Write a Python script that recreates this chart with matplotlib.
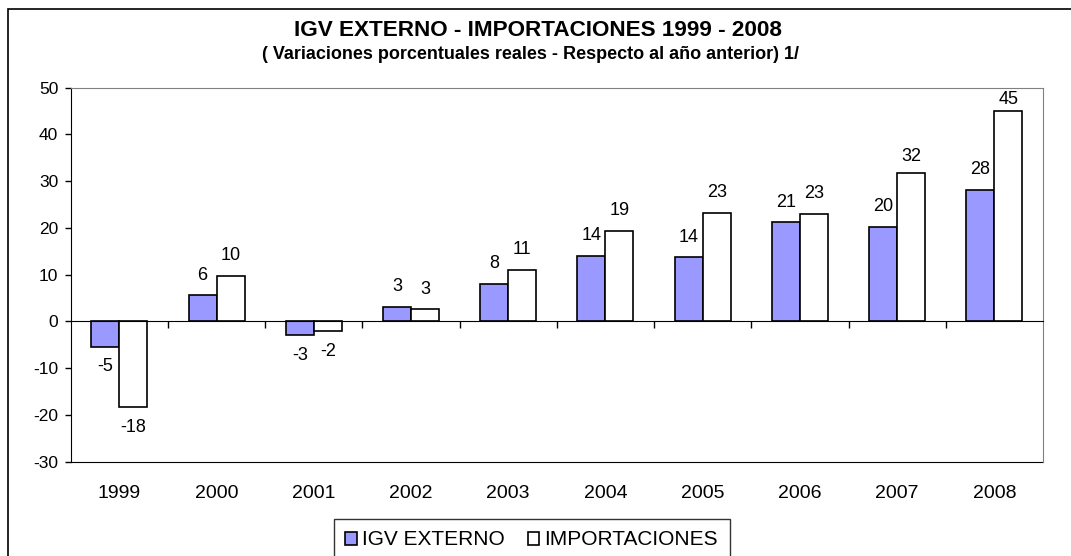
import matplotlib
matplotlib.use("Agg")
import matplotlib.pyplot as plt
from matplotlib.patches import Rectangle
import numpy as np

# Data
years = ["1999", "2000", "2001", "2002", "2003", "2004", "2005", "2006", "2007", "2008"]
igv_externo = [-5.4, 5.6, -3.0, 3.1, 8.1, 14.0, 13.7, 21.2, 20.2, 28.2]
importaciones = [-18.3, 9.7, -2.1, 2.6, 11.0, 19.4, 23.3, 23.0, 31.8, 45.0]

plt.rcParams['font.family'] = ['Liberation Sans', 'DejaVu Sans']
plt.rcParams['axes.unicode_minus'] = False

W, H = 1071, 556
fig = plt.figure(figsize=(W / 100, H / 100), dpi=100)
ax = fig.add_axes([70.7 / W, 1 - 461.7 / H, (1043 - 70.7) / W, (461.7 - 87.7) / H])

x = np.arange(len(years))
w = 0.288
b1 = ax.bar(x - w / 2, igv_externo, w, color="#9999FF", edgecolor="black", linewidth=1.2, label="IGV EXTERNO")
b2 = ax.bar(x + w / 2, importaciones, w, color="white", edgecolor="black", linewidth=1.2, label="IMPORTACIONES")


def label_bars(bars, values, nudge=None):
    # value labels at the outside end, Excel style
    nudge = nudge or {}
    for i, (r, v) in enumerate(zip(bars, values)):
        off = 14.5 - nudge.get(i, 0)
        ax.annotate(f"{v:.0f}", (r.get_x() + r.get_width() / 2, v),
                    xytext=(0, off if v >= 0 else -off), textcoords="offset points",
                    ha="center", va="center", fontsize=13)


label_bars(b1, igv_externo)
label_bars(b2, importaciones, nudge={8: 3, 9: 6.5})

ax.set_xlim(-0.5, len(years) - 0.5)
ax.set_ylim(-30, 50)
ax.set_yticks(np.arange(-30, 51, 10))
ax.tick_params(axis="y", length=4.5, width=1, labelsize=12.5, pad=4.5)

# category axis crosses at zero, ticks between categories
ax.spines["bottom"].set_position(("data", 0))
ax.set_xticks(x[:-1] + 0.5)
ax.set_xticklabels([])
ax.tick_params(axis="x", direction="out", length=5, width=1)
for s in ["top", "right"]:
    ax.spines[s].set_color("#808080")
ax.spines["left"].set_color("black")

sec = ax.secondary_xaxis("bottom")
sec.set_xticks(x, labels=years)
sec.tick_params(length=0, labelsize=14, pad=17)
sec.spines["bottom"].set_color("black")

fig.text(538 / W, 1 - 31 / H, "IGV EXTERNO - IMPORTACIONES 1999 - 2008", ha="center", va="center",
         fontsize=16.2, fontweight="bold")
fig.text(531 / W, 1 - 54 / H, "( Variaciones porcentuales reales - Respecto al año anterior) 1/",
         ha="center", va="center", fontsize=13, fontweight="bold")

fig.legend(handles=[b1, b2], loc="upper left", bbox_to_anchor=(334 / W, 1 - 519 / H),
           ncol=2, frameon=True, fancybox=False, edgecolor="black", fontsize=15,
           handlelength=0.55, handleheight=0.6, handletextpad=0.25, columnspacing=1.1,
           borderaxespad=0, borderpad=0.55)

fig.patches.append(Rectangle((8 / W, -0.1), 1.2, 1 - 9 / H + 0.1, transform=fig.transFigure,
                             fill=False, edgecolor="black", linewidth=1.2))

fig.savefig("out.png", dpi=100)
